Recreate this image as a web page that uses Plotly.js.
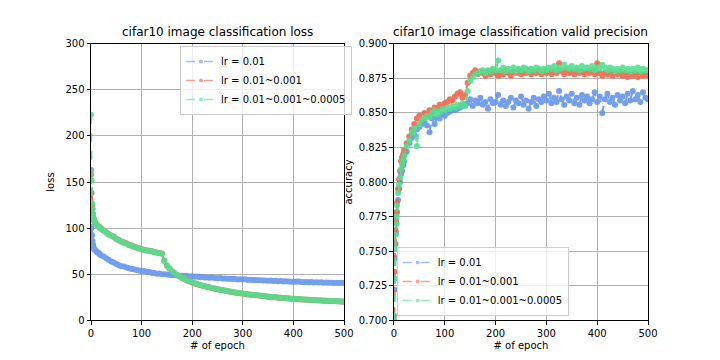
<!DOCTYPE html>
<html>
<head>
<meta charset="utf-8">
<script src="https://cdn.plot.ly/plotly-3.0.1.min.js"></script>
<style>html,body{margin:0;padding:0;background:#fff;}#chart{width:720px;height:360px;}</style>
</head>
<body>
<div id="chart"></div>
<script>
var epochs = [0,1,2,3,4,5,6,8,10,12,14,16,18,20,25,30,35,40,45,50,55,60,65,70,75,80,85,90,95,100,
  105,110,115,120,125,130,135,140,145,150,155,160,165,170,175,180,185,190,195,200,
  205,210,215,220,225,230,235,240,245,250,255,260,265,270,275,280,285,290,295,300,
  305,310,315,320,325,330,335,340,345,350,355,360,365,370,375,380,385,390,395,400,
  405,410,415,420,425,430,435,440,445,450,455,460,465,470,475,480,485,490,495,500];

var seriesNames = ["lr = 0.01", "lr = 0.01~0.001", "lr = 0.01~0.001~0.0005"];

var lossA = [163,100,92,86,82,79,77,76,75,74,73,72.5,71,70.5,69,67,65.5,63.5,62.5,61,59.5,58.5,58.2,57,56.3,55.5,55.2,54.3,53.8,53,
  53.2,52.4,52.1,51.3,51.2,50.4,50.6,49.8,49.6,49.4,49.1,48.7,48.8,48.3,48.1,48.2,47.7,47.9,47.4,47.6,
  47.1,47.2,46.6,46.8,46.3,46.2,45.8,46.1,45.6,45.4,45.7,45.1,45.2,44.8,44.9,44.5,44.7,44.1,44.3,43.9,
  44.2,43.6,43.8,43.4,43.5,43.1,43.3,42.8,43,42.6,42.8,42.4,42.6,42.1,42.3,41.9,42.2,41.8,41.6,41.7,
  41.5,41.8,41.3,41.1,41.4,41,41.2,40.8,41,40.7,40.9,40.5,40.7,40.4,40.6,40.3,40.5,40.2,40.4,40.1];

var lossB = [158,138,125,121,115.5,110.5,108.3,106.4,104.4,103.3,102.3,101.4,100.4,99.4,97.4,95.4,93.4,91.9,90.4,88.4,86.9,85.4,84.4,83.4,81.9,80.9,79.9,78.9,77.9,76.9,
  76.4,75.9,75.4,74.9,73.9,73.4,72.9,72.4,64.3,59.2,55.9,52.9,50.9,48.9,47.3,45.8,44.3,42.8,41.8,40.8,
  39.8,38.8,38.1,37.3,36.6,35.8,35.2,34.6,34,33.4,32.8,32.3,31.8,31.3,30.8,30.3,29.8,29.4,29,28.6,
  28.2,27.8,27.5,27.2,26.9,26.6,26.3,26,25.7,25.4,25.1,24.8,24.6,24.3,24.1,23.8,23.6,23.4,23.2,23,
  22.8,22.6,22.4,22.2,22.1,21.9,21.7,21.6,21.4,21.3,21.1,21,20.8,20.7,20.5,20.4,20.3,20.1,20,19.9];

var lossC = [223,152,127,120,115,110,108,106,104,103,102,101,100,99,97,95,93,91.5,90,88,86.5,85,84,83,81.5,80.5,79.5,78.5,77.5,76.5,
  76,75.5,75,74.5,73.5,73,72.5,72,64,59,56,53,51,49,47.5,46,44.5,43,42,41,
  40,39,38.3,37.5,36.8,36,35.4,34.8,34.2,33.6,33,32.5,32,31.5,31,30.5,30,29.6,29.2,28.8,
  28.4,28,27.7,27.4,27.1,26.8,26.5,26.2,25.9,25.6,25.3,25,24.8,24.5,24.3,24,23.8,23.6,23.4,23.2,
  23,22.8,22.6,22.4,22.3,22.1,21.9,21.8,21.6,21.5,21.3,21.2,21,20.9,20.7,20.6,20.5,20.3,20.2,20.1];

var accA = [0.700,0.722,0.745,0.755,0.763,0.770,0.778,0.787,0.795,0.800,0.806,0.808,0.812,0.815,0.822,0.828,0.832,0.834,0.838,0.840,0.842,0.844,0.841,0.836,0.846,0.842,0.847,0.846,0.849,0.848,
  0.850,0.851,0.852,0.852,0.853,0.854,0.855,0.856,0.857,0.860,0.855,0.859,0.857,0.861,0.856,0.858,0.853,0.860,0.857,0.858,
  0.863,0.856,0.859,0.855,0.858,0.861,0.854,0.859,0.857,0.862,0.856,0.859,0.853,0.858,0.861,0.855,0.860,0.858,0.862,0.859,
  0.864,0.857,0.861,0.858,0.866,0.860,0.856,0.862,0.859,0.864,0.857,0.861,0.856,0.863,0.859,0.862,0.857,0.860,0.865,0.858,
  0.862,0.850,0.860,0.864,0.858,0.861,0.856,0.863,0.859,0.862,0.857,0.864,0.859,0.866,0.860,0.863,0.858,0.865,0.861,0.860];

var accB = [0.703,0.735,0.755,0.765,0.772,0.778,0.785,0.795,0.802,0.808,0.815,0.818,0.820,0.823,0.828,0.833,0.838,0.842,0.846,0.848,0.845,0.850,0.848,0.852,0.850,0.854,0.853,0.856,0.855,0.857,
  0.858,0.860,0.859,0.862,0.864,0.865,0.861,0.863,0.872,0.877,0.879,0.881,0.878,0.880,0.879,0.877,0.880,0.878,0.881,0.879,
  0.877,0.880,0.878,0.881,0.879,0.877,0.880,0.879,0.881,0.878,0.880,0.879,0.881,0.878,0.880,0.879,0.881,0.878,0.880,0.879,
  0.881,0.878,0.880,0.879,0.886,0.880,0.878,0.881,0.879,0.880,0.878,0.881,0.879,0.880,0.878,0.880,0.879,0.881,0.878,0.886,
  0.879,0.877,0.879,0.878,0.880,0.877,0.879,0.878,0.880,0.877,0.879,0.876,0.878,0.877,0.879,0.876,0.878,0.877,0.878,0.877];

var accC = [0.700,0.730,0.752,0.762,0.770,0.775,0.783,0.792,0.798,0.803,0.809,0.813,0.816,0.819,0.826,0.830,0.836,0.839,0.826,0.842,0.845,0.846,0.848,0.847,0.850,0.852,0.849,0.851,0.853,0.852,
  0.854,0.853,0.855,0.854,0.856,0.855,0.857,0.855,0.866,0.873,0.876,0.878,0.879,0.880,0.881,0.879,0.881,0.880,0.882,0.881,
  0.888,0.881,0.883,0.880,0.882,0.881,0.883,0.880,0.882,0.881,0.883,0.882,0.880,0.882,0.881,0.883,0.882,0.880,0.882,0.881,
  0.883,0.882,0.884,0.881,0.883,0.882,0.885,0.883,0.882,0.884,0.882,0.883,0.881,0.884,0.882,0.883,0.882,0.884,0.881,0.883,
  0.882,0.885,0.883,0.881,0.883,0.882,0.880,0.882,0.881,0.883,0.881,0.882,0.880,0.882,0.881,0.883,0.880,0.882,0.881,0.881];

var colors = ["#6495ED", "#F5634A", "#50E190"];
var font = "DejaVu Sans, sans-serif";

function mk(y, i, xa, ya) {
  return {
    x: epochs, y: y, type: "scatter", mode: "lines+markers",
    name: seriesNames[i], xaxis: xa, yaxis: ya, showlegend: false,
    line: {color: colors[i], width: 2, dash: "dash"},
    marker: {color: colors[i], size: 6},
    opacity: 0.9
  };
}
function legItem(i, xa, ya, leg) {
  return {
    x: [null], y: [null], type: "scatter", mode: "lines+markers",
    name: seriesNames[i], xaxis: xa, yaxis: ya, legend: leg, showlegend: true,
    line: {color: colors[i], width: 1.5, dash: "dash"},
    marker: {color: colors[i], size: 4},
    opacity: 0.6
  };
}

var traces = [
  mk(lossA, 0, "x", "y"),
  mk(lossB, 1, "x", "y"),
  mk(lossC, 2, "x", "y"),
  mk(accA, 0, "x2", "y2"),
  mk(accB, 1, "x2", "y2"),
  mk(accC, 2, "x2", "y2"),
  legItem(0, "x", "y", "legend"),
  legItem(1, "x", "y", "legend"),
  legItem(2, "x", "y", "legend"),
  legItem(0, "x2", "y2", "legend2"),
  legItem(1, "x2", "y2", "legend2"),
  legItem(2, "x2", "y2", "legend2")
];

var axBase = {
  showline: true, linecolor: "#000", linewidth: 1, mirror: true,
  ticks: "outside", ticklen: 3.5, tickcolor: "#000", tickwidth: 1,
  showgrid: true, gridcolor: "#b0b0b0", gridwidth: 1, zeroline: false,
  tickfont: {family: font, size: 10, color: "#000"}
};
function ax(extra) { return Object.assign({}, axBase, extra); }

var legBase = {
  bgcolor: "rgba(255,255,255,0.8)", bordercolor: "#cccccc", borderwidth: 1,
  font: {family: font, size: 10, color: "#000"}, itemwidth: 30, tracegroupgap: 0
};

var layout = {
  width: 720, height: 360,
  margin: {l: 0, r: 0, t: 0, b: 0},
  paper_bgcolor: "#fff", plot_bgcolor: "#fff",
  font: {family: font, size: 10, color: "#000"},
  xaxis: ax({domain: [0.1264, 0.4778], range: [0, 500], dtick: 100, anchor: "y",
    title: {text: "# of epoch", font: {family: font, size: 10}, standoff: 4}}),
  yaxis: ax({domain: [0.1111, 0.8778], range: [0, 300], dtick: 50, anchor: "x",
    title: {text: "loss", font: {family: font, size: 10}, standoff: 8}}),
  xaxis2: ax({domain: [0.5472, 0.9], range: [0, 500], dtick: 100, anchor: "y2",
    title: {text: "# of epoch", font: {family: font, size: 10}, standoff: 4}}),
  yaxis2: ax({domain: [0.1111, 0.8778], range: [0.7, 0.9], dtick: 0.025, tickformat: ".3f", anchor: "x2",
    title: {text: "accuracy", font: {family: font, size: 10}, standoff: 4}}),
  legend: Object.assign({}, legBase, {x: 0.25, y: 0.872, xanchor: "left", yanchor: "top"}),
  legend2: Object.assign({}, legBase, {x: 0.551, y: 0.122, xanchor: "left", yanchor: "bottom"}),
  annotations: [
    {text: "cifar10 image classification loss", xref: "paper", yref: "paper",
     x: 0.3021, y: 0.8778, xanchor: "center", yanchor: "bottom", yshift: 3, showarrow: false,
     font: {family: font, size: 12, color: "#000"}},
    {text: "cifar10 image classification valid precision", xref: "paper", yref: "paper",
     x: 0.7236, y: 0.8778, xanchor: "center", yanchor: "bottom", yshift: 3, showarrow: false,
     font: {family: font, size: 12, color: "#000"}}
  ],
  showlegend: true
};

Plotly.newPlot("chart", traces, layout, {displayModeBar: false, staticPlot: true});
</script>
</body>
</html>
